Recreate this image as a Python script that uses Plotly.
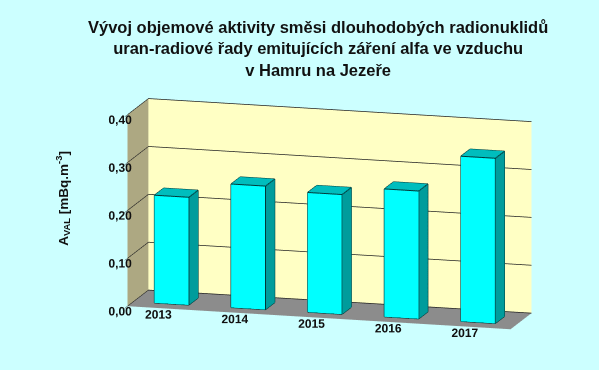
import plotly.graph_objects as go

years = ["2013", "2014", "2015", "2016", "2017"]
values = [0.225, 0.258, 0.250, 0.267, 0.345]
z_ticks = [0.0, 0.1, 0.2, 0.3, 0.4]
z_tick_text = ["0,00", "0,10", "0,20", "0,30", "0,40"]

FRONT = "#00FFFF"
SIDE = "#009C9C"
TOP = "#00BDBD"
BAR_W = 0.45
Y0, Y1 = 0.28, 0.72

xs, ys, zs, I, J, K, fc = [], [], [], [], [], [], []
ex, ey, ez = [], [], []
for idx, v in enumerate(values):
    x0, x1 = idx - BAR_W / 2, idx + BAR_W / 2
    base = len(xs)
    verts = [(x0, Y0, 0), (x1, Y0, 0), (x1, Y1, 0), (x0, Y1, 0),
             (x0, Y0, v), (x1, Y0, v), (x1, Y1, v), (x0, Y1, v)]
    for vx, vy, vz in verts:
        xs.append(vx); ys.append(vy); zs.append(vz)
    faces = [((0, 1, 5), FRONT), ((0, 5, 4), FRONT),
             ((1, 2, 6), SIDE), ((1, 6, 5), SIDE),
             ((4, 5, 6), TOP), ((4, 6, 7), TOP),
             ((3, 2, 6), SIDE), ((3, 6, 7), SIDE),
             ((0, 3, 7), SIDE), ((0, 7, 4), SIDE),
             ((0, 1, 2), SIDE), ((0, 2, 3), SIDE)]
    for (a, b, c), col in faces:
        I.append(base + a); J.append(base + b); K.append(base + c); fc.append(col)
    edges = [(0, 1), (1, 5), (5, 4), (4, 0), (1, 2), (2, 6), (6, 5), (6, 7), (7, 4)]
    for a, b in edges:
        ex += [verts[a][0], verts[b][0], None]
        ey += [verts[a][1], verts[b][1], None]
        ez += [verts[a][2], verts[b][2], None]

fig = go.Figure()
fig.add_trace(go.Mesh3d(x=xs, y=ys, z=zs, i=I, j=J, k=K, facecolor=fc,
                        flatshading=True,
                        lighting=dict(ambient=1, diffuse=0, specular=0, fresnel=0, roughness=1),
                        hoverinfo="skip", showscale=False))
fig.add_trace(go.Scatter3d(x=ex, y=ey, z=ez, mode="lines",
                           line=dict(color="#003838", width=2), hoverinfo="skip", showlegend=False))

tickfont = dict(family="Liberation Sans", size=12, color="#111111", weight="bold")
D = 2.2
SHIFT = 0.16
fig.update_layout(
    width=599, height=370,
    margin=dict(l=0, r=0, t=0, b=0),
    paper_bgcolor="#CCFFFF",
    showlegend=False,
    scene=dict(
        domain=dict(x=[0.12, 0.98], y=[0.0, 1.0]),
        aspectmode="manual", aspectratio=dict(x=2.15, y=0.42, z=1.06),
        camera=dict(eye=dict(x=0.263 * D, y=-0.940 * D, z=0.215 * D + SHIFT),
                    center=dict(x=0, y=0, z=SHIFT),
                    up=dict(x=0, y=0, z=1), projection=dict(type="orthographic")),
        xaxis=dict(range=[-0.5, 4.5], tickvals=list(range(len(years))), ticktext=years,
                   showgrid=False, zeroline=False, showbackground=True,
                   backgroundcolor="#ADA882", title=dict(text=""), tickfont=tickfont,
                   showspikes=False, showline=False, ticks="outside", ticklen=14,
                   tickcolor="rgba(0,0,0,0)", tickangle=0),
        yaxis=dict(range=[0, 1], showticklabels=False, showgrid=False, zeroline=False,
                   showbackground=True, backgroundcolor="#FFFFC4", title=dict(text=""),
                   showspikes=False, ticks=""),
        zaxis=dict(range=[0, 0.4], tickvals=z_ticks, ticktext=z_tick_text,
                   showgrid=True, gridcolor="#222222", gridwidth=1.5, zeroline=False,
                   showbackground=True, backgroundcolor="#8C8C8C", title=dict(text=""),
                   tickfont=tickfont, showspikes=False, ticks="outside", ticklen=14,
                   tickcolor="#222222", tickangle=0),
    ),
    annotations=[
        dict(text="Vývoj objemové aktivity směsi dlouhodobých radionuklidů<br>"
                  "uran-radiové řady emitujících záření alfa ve vzduchu<br>v Hamru na Jezeře",
             x=0.531, y=0.87, xref="paper", yref="paper", xanchor="center", yanchor="middle",
             showarrow=False,
             font=dict(family="Liberation Sans", size=16.5, color="#111111", weight="bold")),
        dict(text="A<sub>VAL</sub> [mBq.m<sup>-3</sup>]", textangle=-90,
             x=0.105, y=0.465, xref="paper", yref="paper", xanchor="center", yanchor="middle",
             showarrow=False,
             font=dict(family="Liberation Sans", size=13.5, color="#111111", weight="bold")),
    ],
)
fig.write_html("out.html", post_script="document.body.style.margin='0';",
               config={"displayModeBar": False})
